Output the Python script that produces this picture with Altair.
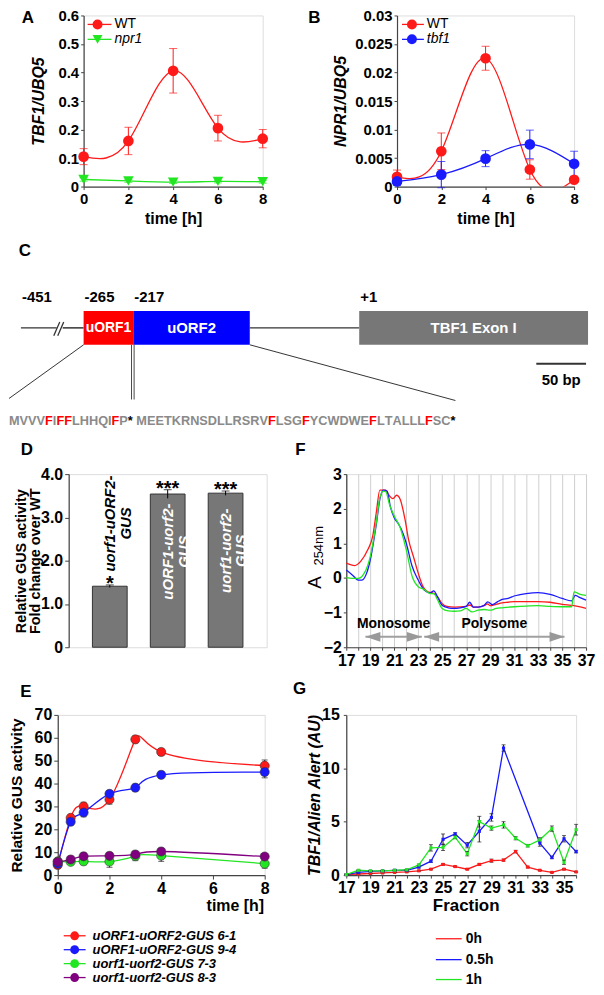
import altair as alt
import pandas as pd

FONT = "Liberation Sans, Arial, Helvetica, sans-serif"
RED = "#ff1a1a"
BLUE = "#1a1aff"
GREEN = "#22e622"
PURPLE = "#800080"
FRAME = "#444444"

# ---------------- DATA ----------------
# A
a_time = [0, 2, 4, 6, 8]
a_wt = [0.105, 0.160, 0.406, 0.205, 0.168]
a_wt_err = [0.028, 0.048, 0.078, 0.045, 0.032]
a_npr1 = [0.025, 0.020, 0.016, 0.018, 0.017]
a_npr1_err = [0.006, 0.005, 0.005, 0.005, 0.005]
a_series = ["WT", "npr1"]
# B
b_time = [0, 2, 4, 6, 8]
b_wt = [0.0017, 0.0062, 0.0225, 0.0030, 0.0012]
b_wt_err = [0.0012, 0.0032, 0.0021, 0.0017, 0.0004]
b_tbf1 = [0.0009, 0.0021, 0.0049, 0.0074, 0.0040]
b_tbf1_err = [0.0007, 0.0023, 0.0014, 0.0025, 0.0022]
b_series = ["WT", "tbf1"]
# C
c_pos_labels = ["-451", "-265", "-217", "+1"]
c_pos_bp = [-328, -265, -215, 12]
c_features = ["uORF1", "uORF2", "TBF1 Exon I"]
c_feature_start = [-265, -215, 12]
c_feature_end = [-215, -98, 242]
c_backbone_start = [-328, -286, -98]
c_backbone_end = [-292, -265, 12]
c_scalebar = [190, 240]
c_scalebar_label = "50 bp"
c_pep_uorf1 = "MVVVFIFFLHHQIFP*"
c_pep_uorf2 = "MEETKRNSDLLRSRVFLSGFYCWDWEFLTALLLFSC*"
# D
d_constructs = ["uorf1-uORF2-GUS", "uORF1-uorf2-GUS", "uorf1-uorf2-GUS"]
d_value = [1.41, 3.54, 3.56]
d_err = [0.03, 0.10, 0.05]
d_sig = ["*", "***", "***"]
# E
e_time = [0, 0.5, 1, 2, 3, 4, 8]
e_series = ["uORF1-uORF2-GUS 6-1", "uORF1-uORF2-GUS 9-4", "uorf1-uorf2-GUS 7-3", "uorf1-uorf2-GUS 8-3"]
e_61 = [4.4, 25.0, 30.0, 33.0, 59.3, 53.8, 47.8]
e_61_err = [1.2, 1.5, 1.8, 2.0, 1.5, 1.5, 2.5]
e_94 = [4.9, 23.3, 27.3, 35.5, 38.2, 43.8, 45.0]
e_94_err = [1.0, 1.5, 1.8, 1.5, 1.5, 1.5, 2.5]
e_73 = [6.0, 5.8, 6.0, 5.9, 8.3, 8.5, 5.0]
e_73_err = [1.2, 1.2, 1.5, 2.5, 2.0, 2.5, 2.0]
e_83 = [5.8, 6.8, 8.2, 8.4, 9.0, 10.3, 8.1]
e_83_err = [1.2, 1.5, 1.5, 1.5, 1.5, 1.5, 1.2]
# F
f_red_x = [17, 17.7, 18.2, 18.8, 19.2, 19.5, 19.8, 20.3, 20.5, 20.9, 21.2, 21.5, 21.9, 22.2, 22.6, 23.0,
           23.4, 23.8, 24.2, 24.6, 25.0, 25.4, 26, 27, 27.3, 27.6, 28, 28.5, 28.8, 29, 29.5, 30, 30.5,
           31, 32, 33, 34, 35, 36, 37]
f_red_y = [0.43, 0.36, 0.48, 0.82, 1.2, 1.88, 2.54, 2.54, 2.42, 2.29, 2.39, 2.27, 1.69, 1.1, 0.62, 0.14,
           -0.25, -0.40, -0.43, -0.54, -0.74, -0.82, -0.84, -0.82, -0.78, -0.84, -0.84, -0.80, -0.75, -0.80,
           -0.76, -0.72, -0.70, -0.68, -0.68, -0.68, -0.70, -0.76, -0.80, -0.88]
f_blue_x = [17, 17.5, 18, 18.3, 18.7, 19, 19.5, 19.8, 20.1, 20.4, 20.7, 21, 21.3, 21.6, 22, 22.5, 23, 23.5,
            24, 24.3, 24.6, 25, 25.5, 26, 26.5, 27, 27.3, 27.6, 28, 28.5, 28.8, 29.2, 29.6, 30, 30.5, 31,
            31.5, 32, 33, 34, 35, 35.8, 36.1, 36.4, 37]
f_blue_y = [0.23, 0.09, -0.06, -0.06, 0.14, 0.52, 1.54, 2.27, 2.54, 2.51, 2.03, 1.74, 1.59, 1.40, 1.01, 0.33,
            -0.06, -0.35, -0.43, -0.37, -0.54, -0.79, -0.86, -0.88, -0.86, -0.82, -0.70, -0.84, -0.84, -0.79,
            -0.69, -0.77, -0.69, -0.62, -0.59, -0.52, -0.48, -0.45, -0.42, -0.47, -0.59, -0.66, -0.50, -0.55,
            -0.64]
f_green_x = [17, 17.5, 18, 18.5, 19, 19.5, 19.8, 20.1, 20.3, 20.6, 21, 21.5, 22, 22.5, 23, 23.5, 24, 24.3,
             24.6, 25, 25.5, 26, 26.5, 27, 27.5, 28, 28.5, 29, 29.5, 30, 31, 32, 33, 34, 35, 35.8, 36.0,
             36.5, 37]
f_green_y = [0.01, -0.01, -0.01, 0.14, 0.62, 1.59, 2.32, 2.51, 2.49, 2.13, 1.79, 1.45, 0.82, 0.04, -0.25,
             -0.33, -0.45, -0.45, -0.62, -0.88, -0.95, -0.96, -0.95, -0.88, -0.98, -0.93, -0.91, -0.93, -0.88,
             -0.86, -0.83, -0.81, -0.80, -0.82, -0.83, -0.83, -0.40, -0.47, -0.50]
f_regions = ["Monosome", "Polysome"]
f_region_start = [18.6, 23.5]
f_region_end = [23.3, 35.2]
# G
g_series = ["0h", "0.5h", "1h"]
g_frac = list(range(17, 37))
g_0h = [0.05, 0.1, 0.15, 0.2, 0.25, 0.3, 0.4, 0.55, 1.0, 0.8, 0.55, 1.0, 1.35, 1.4, 2.2, 0.75, 0.45, 0.25, 0.55, 0.3]
g_0h_err = [0.02, 0.03, 0.03, 0.03, 0.03, 0.03, 0.05, 0.05, 0.08, 0.06, 0.05, 0.08, 0.15, 0.1, 0.12, 0.08, 0.05, 0.04, 0.06, 0.05]
g_05h = [0.05, 0.25, 0.35, 0.4, 0.45, 0.45, 0.75, 1.3, 3.35, 3.85, 2.8, 4.1, 5.4, 11.9, None, None, 3.0, 1.65, 3.4, 2.2]
g_05h_err = [0.02, 0.05, 0.05, 0.05, 0.05, 0.05, 0.08, 0.12, 0.5, 0.12, 0.25, 1.0, 0.35, 0.3, None, None, 0.3, 0.12, 0.3, 0.12]
g_1h = [0.05, 0.45, 0.4, 0.4, 0.45, 0.5, 0.95, 2.55, 2.6, 3.55, 2.0, 5.0, 4.4, 4.7, 3.45, 2.75, 3.3, 4.35, 1.2, 4.25]
g_1h_err = [0.02, 0.05, 0.05, 0.05, 0.05, 0.05, 0.08, 0.3, 0.3, 0.15, 0.2, 0.5, 0.2, 0.3, 0.15, 0.12, 0.2, 0.25, 0.2, 0.5]

# ---------------- HELPERS ----------------
def ax(**kw):
    d = dict(labelFont=FONT, labelFontSize=15, labelFontWeight="bold", labelColor="black",
             titleFont=FONT, titleFontSize=16, titleFontWeight="bold", titleColor="black",
             titleBaseline="middle", titleAlign="center",
             domainColor=FRAME, domainWidth=1.2, tickColor=FRAME, tickSize=3, grid=False,
             labelPadding=2, labelFlush=False, labelOverlap=False)
    d.update(kw)
    return alt.Axis(**d)


def long_df(xs, names, vals, errs):
    rows = []
    for n, vs, es in zip(names, vals, errs):
        for x, v, e in zip(xs, vs, es):
            if v is None:
                continue
            rows.append({"x": x, "v": v, "lo": v - e, "hi": v + e, "series": n})
    return pd.DataFrame(rows)


def curve_layers(df, names, colors, shapes, xscale, xaxis, yscale, yaxis, interp, msize, cap,
                 errcolor=None, mstroke=None, line_w=1.3):
    base = alt.Chart(df)
    color = alt.Color("series:N", scale=alt.Scale(domain=names, range=colors), legend=None)
    X = alt.X("x:Q", scale=xscale, axis=xaxis)

    def Y(f):
        return alt.Y(f, scale=yscale, axis=yaxis)

    ecol = color if errcolor is None else alt.value(errcolor)
    line = base.mark_line(interpolate=interp, strokeWidth=line_w, clip=True).encode(
        x=X, y=Y("v:Q"), color=color, detail="series:N")
    rule = base.mark_rule(strokeWidth=1).encode(x=X, y=Y("lo:Q"), y2="hi:Q", color=ecol)
    cap_hi = base.mark_tick(orient="horizontal", size=cap, thickness=1).encode(x=X, y=Y("hi:Q"), color=ecol)
    cap_lo = base.mark_tick(orient="horizontal", size=cap, thickness=1).encode(x=X, y=Y("lo:Q"), color=ecol)
    pkw = dict(filled=True, size=msize, opacity=1)
    if mstroke:
        pkw.update(stroke=mstroke, strokeWidth=0.6)
    pts = base.mark_point(**pkw).encode(
        x=X, y=Y("v:Q"), color=color,
        shape=alt.Shape("series:N", scale=alt.Scale(domain=names, range=shapes), legend=None))
    return [line, rule, cap_hi, cap_lo, pts]


def manual_legend(labels, colors, shapes, xl, xm, xt, ys, fs, style="normal", weight="normal",
                  msize=100, lw=1.3, styles=None):
    layers = []
    for i, (lab, col, shp, yy) in enumerate(zip(labels, colors, shapes, ys)):
        st = styles[i] if styles else style
        b = alt.Chart(pd.DataFrame({"label": [lab]}))
        layers.append(b.mark_rule(color=col, strokeWidth=lw).encode(
            x=alt.value(xl[0]), x2=alt.value(xl[1]), y=alt.value(yy)))
        if shp:
            layers.append(b.mark_point(shape=shp, filled=True, size=msize, color=col, opacity=1).encode(
                x=alt.value(xm), y=alt.value(yy)))
        layers.append(b.mark_text(align="left", baseline="middle", font=FONT, fontSize=fs,
                                  fontStyle=st, fontWeight=weight, color="black").encode(
            x=alt.value(xt), y=alt.value(yy), text="label:N"))
    return layers


def letter(ch, dx, dy):
    return alt.Chart(pd.DataFrame({"t": [ch]})).mark_text(
        font=FONT, fontSize=17, fontWeight="bold", align="center", baseline="middle", color="black"
    ).encode(x=alt.value(dx), y=alt.value(dy), text="t:N")


def spacer(w, h):
    return alt.Chart(pd.DataFrame({"s": [0]})).mark_point(opacity=0, size=1).encode(
        x=alt.value(w / 2), y=alt.value(h / 2)
    ).properties(width=w, height=h, view=alt.ViewBackground(stroke="transparent"))


# ---------------- PANEL A ----------------
dfA = long_df(a_time, a_series, [a_wt, a_npr1], [a_wt_err, a_npr1_err])
layA = curve_layers(
    dfA, a_series, [RED, GREEN], ["circle", "triangle-down"],
    alt.Scale(domain=[0, 8], nice=False),
    ax(values=a_time, title="time [h]", titleX=90, titleY=32),
    alt.Scale(domain=[0, 0.6], nice=False),
    ax(values=[0, 0.1, 0.2, 0.3, 0.4, 0.5, 0.6], format="~g", title="TBF1/UBQ5",
       titleFontStyle="italic", titleX=-45),
    "natural", 115, 8)
legA = manual_legend(["WT", "npr1"], [RED, GREEN], ["circle", "triangle-down"],
                     (4, 28), 14, 31, [9, 24], 14, msize=100, styles=["normal", "italic"])
panelA = alt.layer(*layA, *legA, letter("A", -56, 3)).properties(width=180, height=172)

# ---------------- PANEL B ----------------
dfB = long_df(b_time, b_series, [b_wt, b_tbf1], [b_wt_err, b_tbf1_err])
layB = curve_layers(
    dfB, b_series, [RED, BLUE], ["circle", "circle"],
    alt.Scale(domain=[0, 8], nice=False),
    ax(values=b_time, title="time [h]", titleX=89, titleY=32),
    alt.Scale(domain=[0, 0.03], nice=False),
    ax(values=[0, 0.005, 0.01, 0.015, 0.02, 0.025, 0.03], format="~g", title="NPR1/UBQ5",
       titleFontStyle="italic", titleX=-57),
    "natural", 115, 8)
legB = manual_legend(["WT", " tbf1"], [RED, BLUE], ["circle", "circle"],
                     (5, 27), 15, 30, [9, 24], 14, msize=100, styles=["normal", "italic"])
panelB = alt.layer(*layB, *legB, letter("B", -83, 3)).properties(width=178, height=172)

# ---------------- PANEL C ----------------
C_W, C_H = 588, 204.5
Y_LABEL, Y_TOP, Y_BOT, Y_LINE = 61, 75, 109, 92
Y_SCALE, Y_SCALE_TXT, Y_ZOOM, Y_SEQ = 128, 144, 164, 186
SEQ_FS = 12.8
SEQ_X0 = -340
WBOLD = {"M": 833, "V": 667, "F": 611, "I": 278, "L": 611, "H": 722, "Q": 778, "P": 667, "*": 389,
         " ": 278, "E": 667, "T": 611, "K": 722, "R": 722, "N": 722, "S": 667, "D": 722, "G": 778,
         "Y": 667, "C": 722, "W": 944, "A": 722}

xsC = alt.Scale(domain=[SEQ_X0, SEQ_X0 + C_W], nice=False, zero=False)
ysC = alt.Scale(domain=[C_H, 0], nice=False, zero=False)


def XC(f):
    return alt.X(f, scale=xsC, axis=None)


def YC(f):
    return alt.Y(f, scale=ysC, axis=None)


seq = c_pep_uorf1 + " " + c_pep_uorf2
rows, cur = [], SEQ_X0
for ch in seq:
    col = "#ff0000" if ch == "F" else ("#000000" if ch == "*" else "#8a8a8a")
    if ch != " ":
        rows.append({"ch": ch, "x": cur, "col": col, "y": Y_SEQ})
    cur += WBOLD[ch] * SEQ_FS / 1000.0
seq_end = cur
uorf1_end = SEQ_X0 + sum(WBOLD[c] for c in c_pep_uorf1) * SEQ_FS / 1000.0
df_seq = pd.DataFrame(rows)

df_back = pd.DataFrame({"x0": c_backbone_start, "x1": c_backbone_end, "y": Y_LINE})
df_slash = pd.DataFrame({"x0": [c_backbone_end[0] - 3, c_backbone_start[1] - 5],
                         "x1": [c_backbone_end[0] + 3, c_backbone_start[1] + 1],
                         "y0": [Y_LINE + 8, Y_LINE + 8], "y1": [Y_LINE - 6, Y_LINE - 6]})
df_box = pd.DataFrame({"name": c_features, "x0": c_feature_start, "x1": c_feature_end,
                       "y0": Y_TOP, "y1": Y_BOT, "fill": ["#ff0000", "#0000ff", "#777777"],
                       "fs": [14, 15, 15]})
df_box["mid"] = (df_box.x0 + df_box.x1) / 2
df_box["ym"] = Y_LINE
df_pos = pd.DataFrame({"lab": c_pos_labels, "x": c_pos_bp, "y": Y_LABEL})
df_zoom = pd.DataFrame({"x0": [c_feature_start[0], c_feature_end[1]], "y0": [Y_BOT, Y_BOT],
                        "x1": [SEQ_X0, seq_end], "y1": [Y_ZOOM - 1, Y_ZOOM + 1]})
df_dbl = pd.DataFrame({"x": [uorf1_end - 1.3, uorf1_end + 1.3], "y0": Y_BOT, "y1": Y_ZOOM})
df_bar = pd.DataFrame({"x0": [c_scalebar[0]], "x1": [c_scalebar[1]], "y": Y_SCALE,
                       "lab": [c_scalebar_label], "mid": [sum(c_scalebar) / 2], "yt": Y_SCALE_TXT})

c_layers = [
    alt.Chart(df_back).mark_rule(color="#333", strokeWidth=1.5).encode(x=XC("x0:Q"), x2="x1:Q", y=YC("y:Q")),
    alt.Chart(df_slash).mark_rule(color="#333", strokeWidth=1.3).encode(x=XC("x0:Q"), x2="x1:Q", y=YC("y0:Q"), y2="y1:Q"),
    alt.Chart(df_box).mark_rect(strokeWidth=0).encode(x=XC("x0:Q"), x2="x1:Q", y=YC("y0:Q"), y2="y1:Q",
                                                      color=alt.Color("fill:N", scale=None)),
    alt.Chart(df_box).mark_text(font=FONT, fontWeight="bold", color="white",
                                align="center", baseline="middle").encode(
        x=XC("mid:Q"), y=YC("ym:Q"), text="name:N", size=alt.Size("fs:Q", scale=None)),
    alt.Chart(df_pos).mark_text(font=FONT, fontSize=15, fontWeight="bold", color="black",
                                align="left", baseline="middle", dx=1).encode(x=XC("x:Q"), y=YC("y:Q"), text="lab:N"),
    alt.Chart(df_zoom).mark_rule(color="#333", strokeWidth=1).encode(x=XC("x0:Q"), x2="x1:Q", y=YC("y0:Q"), y2="y1:Q"),
    alt.Chart(df_dbl).mark_rule(color="#333", strokeWidth=0.9).encode(x=XC("x:Q"), y=YC("y0:Q"), y2="y1:Q"),
    alt.Chart(df_bar).mark_rule(color="#333", strokeWidth=2).encode(x=XC("x0:Q"), x2="x1:Q", y=YC("y:Q")),
    alt.Chart(df_bar).mark_text(font=FONT, fontSize=15, fontWeight="bold", color="black",
                                align="center", baseline="middle").encode(x=XC("mid:Q"), y=YC("yt:Q"), text="lab:N"),
    alt.Chart(df_seq).mark_text(font=FONT, fontSize=SEQ_FS, fontWeight="bold", align="left",
                                baseline="middle").encode(x=XC("x:Q"), y=YC("y:Q"), text="ch:N",
                                                          color=alt.Color("col:N", scale=None)),
    letter("C", 16, 15),
]
panelC = alt.layer(*c_layers).properties(width=C_W, height=C_H, view=alt.ViewBackground(stroke="transparent"))

# ---------------- PANEL D ----------------
dfD = pd.DataFrame({"construct": d_constructs, "value": d_value, "err": d_err, "sig": d_sig})
dfD["lo"] = dfD.value - dfD.err
dfD["hi"] = dfD.value + dfD.err
dfD["label"] = [c[: c.rfind("-") + 1] + "\n" + c[c.rfind("-") + 1:] for c in d_constructs]
dfD["label_y"] = [v + 1.45 if v < 2 else v - 1.33 for v in d_value]
dfD["label_col"] = ["black" if v < 2 else "white" for v in d_value]
xD = alt.X("construct:N", sort=d_constructs, axis=None,
           scale=alt.Scale(paddingInner=0.4, paddingOuter=0.41))
ysD = alt.Scale(domain=[0, 4], nice=False)
axD = ax(values=[0, 1, 2, 3, 4], labelExpr="datum.value == 0 ? '0' : format(datum.value, '.1f')",
         title=["Relative GUS activity", "Fold change over WT"], titleFontSize=14.5,
         titleLineHeight=14, titleX=-47, labelFontSize=16, tickSize=4)
baseD = alt.Chart(dfD)
panelD = alt.layer(
    baseD.mark_bar(color="#777777", stroke="#333", strokeWidth=1).encode(x=xD, y=alt.Y("value:Q", scale=ysD, axis=axD)),
    baseD.mark_rule(color="black", strokeWidth=1).encode(x=xD, y=alt.Y("lo:Q", scale=ysD, axis=axD), y2="hi:Q"),
    baseD.mark_tick(orient="horizontal", size=8, thickness=1, color="black").encode(x=xD, y=alt.Y("hi:Q", scale=ysD, axis=axD)),
    baseD.mark_text(font=FONT, fontSize=20, fontWeight="bold", baseline="alphabetic", dy=5, color="black").encode(
        x=xD, y=alt.Y("hi:Q", scale=ysD, axis=axD), text="sig:N"),
    baseD.mark_text(font=FONT, fontSize=15, fontWeight="bold", fontStyle="italic", angle=270,
                    lineBreak="\n", lineHeight=16, align="center", baseline="middle").encode(
        x=xD, y=alt.Y("label_y:Q", scale=ysD, axis=axD), text="label:N",
        color=alt.Color("label_col:N", scale=None)),
    letter("D", -42, -24),
).properties(width=199, height=174)

# ---------------- PANEL F ----------------
dfF = pd.concat([
    pd.DataFrame({"x": f_red_x, "v": f_red_y, "series": "0h"}),
    pd.DataFrame({"x": f_blue_x, "v": f_blue_y, "series": "0.5h"}),
    pd.DataFrame({"x": f_green_x, "v": f_green_y, "series": "1h"}),
])
xsF = alt.Scale(domain=[17, 37], nice=False, zero=False)
ysF = alt.Scale(domain=[-2, 3], nice=False)
axFx = ax(values=list(range(17, 38)), grid=True, gridColor="#cfcfcf", gridWidth=1,
          labelExpr="datum.value % 2 == 1 ? datum.label : ''", title=None, labelFontSize=16)
axFy = ax(values=[-2, -1, 0, 1, 2, 3], title=None, labelFontSize=16)
dfArr = pd.DataFrame({"name": f_regions, "s": f_region_start, "e": f_region_end, "y": -1.7})
dfArr["mid"] = (dfArr.s + dfArr.e) / 2
ARROW_L = "M0,0L2,-0.667L2,0.667Z"
ARROW_R = "M0,0L-2,-0.667L-2,0.667Z"
baseArr = alt.Chart(dfArr)
panelF = alt.layer(
    alt.Chart(dfF).mark_line(interpolate="monotone", strokeWidth=1.3).encode(
        x=alt.X("x:Q", scale=xsF, axis=axFx), y=alt.Y("v:Q", scale=ysF, axis=axFy),
        color=alt.Color("series:N", scale=alt.Scale(domain=g_series, range=[RED, BLUE, GREEN]), legend=None)),
    baseArr.mark_rule(color="#a0a0a0", strokeWidth=2).encode(x=alt.X("s:Q", scale=xsF, axis=axFx), x2="e:Q",
                                                             y=alt.Y("y:Q", scale=ysF, axis=axFy)),
    baseArr.mark_point(shape=ARROW_L, size=225, filled=True, color="#999999", opacity=1).encode(
        x=alt.X("s:Q", scale=xsF, axis=axFx), y=alt.Y("y:Q", scale=ysF, axis=axFy)),
    baseArr.mark_point(shape=ARROW_R, size=225, filled=True, color="#999999", opacity=1).encode(
        x=alt.X("e:Q", scale=xsF, axis=axFx), y=alt.Y("y:Q", scale=ysF, axis=axFy)),
    baseArr.mark_text(font=FONT, fontSize=14, fontWeight="bold", dy=-13, color="black").encode(
        x=alt.X("mid:Q", scale=xsF, axis=axFx), y=alt.Y("y:Q", scale=ysF, axis=axFy), text="name:N"),
    alt.Chart(pd.DataFrame({"t": ["A"]})).mark_text(font=FONT, fontSize=19, angle=270, align="center",
                                                    baseline="middle", color="black").encode(
        x=alt.value(-31), y=alt.value(109), text="t:N"),
    alt.Chart(pd.DataFrame({"t": ["254nm"]})).mark_text(font=FONT, fontSize=13, angle=270, align="center",
                                                        baseline="middle", color="black").encode(
        x=alt.value(-27), y=alt.value(72), text="t:N"),
    letter("F", -46, -24),
).properties(width=241, height=174)

# ---------------- PANEL E ----------------
dfE = long_df(e_time, e_series, [e_61, e_94, e_73, e_83], [e_61_err, e_94_err, e_73_err, e_83_err])
E_COLORS = [RED, BLUE, GREEN, PURPLE]
layE = curve_layers(
    dfE, e_series, E_COLORS, ["circle"] * 4,
    alt.Scale(domain=[0, 8], nice=False),
    ax(values=[0, 2, 4, 6, 8], title="time [h]", titleX=178, titleY=31, labelFontSize=16, tickSize=4),
    alt.Scale(domain=[0, 70], nice=False),
    ax(values=[0, 10, 20, 30, 40, 50, 60, 70], title="Relative GUS activity", titleFontSize=15.5,
       titleX=-41, labelFontSize=16, tickSize=4),
    "natural", 85, 6, errcolor="#222222", mstroke="#333333")
legE = manual_legend(e_series, E_COLORS, ["circle"] * 4, (6, 28), 17, 35, [222, 236, 250, 264], 13,
                     style="italic", weight="bold", msize=80)
panelE = alt.layer(*layE, *legE, letter("E", -32, -23)).properties(width=208, height=161)

# ---------------- PANEL G ----------------
dfG = long_df(g_frac, g_series, [g_0h, g_05h, g_1h], [g_0h_err, g_05h_err, g_1h_err])
layG = curve_layers(
    dfG, g_series, [RED, BLUE, GREEN], ["square"] * 3,
    alt.Scale(domain=[17, 36], nice=False, zero=False),
    ax(values=list(range(17, 37)), labelExpr="datum.value % 2 == 1 ? datum.label : ''",
       title="Fraction", titleFontSize=17, titleX=120, titleY=31, labelFontSize=16),
    alt.Scale(domain=[0, 15], nice=False),
    ax(values=[0, 5, 10, 15], title="TBF1/Alien Alert (AU)", titleFontStyle="italic",
       titleX=-32, labelFontSize=16, labelPadding=4),
    "linear", 10, 4, errcolor="#222222")
legG = manual_legend(g_series, [RED, BLUE, GREEN], [None] * 3, (90, 116), 0, 120, [225, 246, 266], 14,
                     weight="bold")
panelG = alt.layer(*layG, *legG, letter("G", -47, -26)).properties(width=231, height=161)

# ---------------- LAYOUT ----------------
IND = dict(color="independent", shape="independent")
row1 = alt.hconcat(spacer(75, 220), panelA, spacer(135, 172), panelB,
                   spacing=0, bounds="flush").resolve_scale(**IND)
row3 = alt.hconcat(spacer(60, 205.4), panelD, spacer(80, 174), panelF,
                   spacing=0, bounds="flush").resolve_scale(**IND)
row5 = alt.hconcat(spacer(49, 161), panelE, spacer(82, 161), panelG,
                   spacing=0, bounds="flush").resolve_scale(**IND)

chart = alt.vconcat(row1, panelC, row3, row5, spacing=0).resolve_scale(**IND).properties(
    padding={"top": -3, "left": 0, "right": 0, "bottom": 0}
).configure_view(stroke=FRAME, strokeWidth=1.2).configure(font=FONT)

chart.save("out.html", embed_options={"renderer": "svg", "actions": False})
